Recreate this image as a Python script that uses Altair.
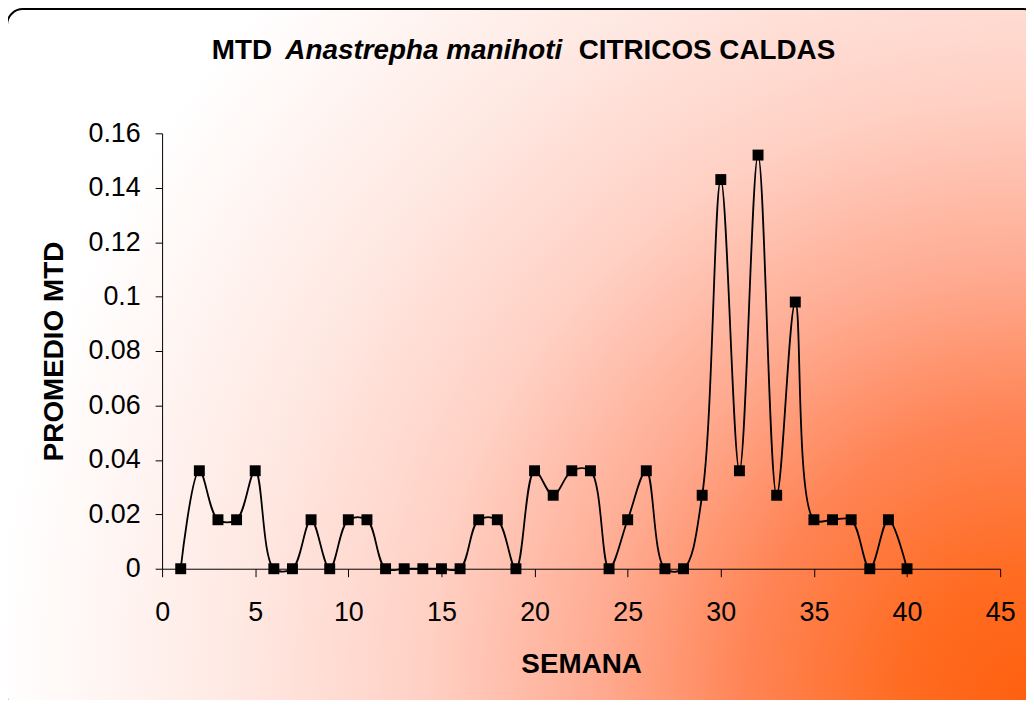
import altair as alt
import pandas as pd

# ---- data ----
semana = list(range(1, 41))
mtd = [0.0, 0.036, 0.018, 0.018, 0.036, 0.0, 0.0, 0.018, 0.0, 0.018,
       0.018, 0.0, 0.0, 0.0, 0.0, 0.0, 0.018, 0.018, 0.0, 0.036,
       0.027, 0.036, 0.036, 0.0, 0.018, 0.036, 0.0, 0.0, 0.027, 0.143,
       0.036, 0.152, 0.027, 0.098, 0.018, 0.018, 0.018, 0.0, 0.018, 0.0]
y_ticks = [0, 0.02, 0.04, 0.06, 0.08, 0.1, 0.12, 0.14, 0.16]
x_ticks = [0, 5, 10, 15, 20, 25, 30, 35, 40, 45]
title_parts = ["MTD", "Anastrepha manihoti", "CITRICOS CALDAS"]
title_styles = ["normal", "italic", "normal"]
x_title = "SEMANA"
y_title = "PROMEDIO MTD"

df = pd.DataFrame({"semana": semana, "mtd": mtd})

W, H = 843, 438
FONT = "Liberation Sans"

# background panel with gradient (radiating from the lower-right corner) and rounded border
bg = alt.Chart(pd.DataFrame({"k": [0]})).mark_rect(
    fill=alt.Gradient(
        gradient="radial", x1=0.985, y1=0.826, r1=0, x2=0.985, y2=0.826, r2=1.0,
        stops=[
            alt.GradientStop(color="#ff6010", offset=0.0),
            alt.GradientStop(color="#ff6c22", offset=0.12),
            alt.GradientStop(color="#ff8455", offset=0.27),
            alt.GradientStop(color="#ffaa90", offset=0.41),
            alt.GradientStop(color="#ffd0c4", offset=0.58),
            alt.GradientStop(color="#ffe8e2", offset=0.76),
            alt.GradientStop(color="#fff8f6", offset=0.92),
            alt.GradientStop(color="#ffffff", offset=1.0),
        ],
    ),
    stroke="black", strokeWidth=2, cornerRadius=16, clip=False,
).encode(
    x=alt.value(-156), x2=alt.value(W + 40),
    y=alt.value(-125), y2=alt.value(H + 145),
)

x_enc = alt.X("semana:Q", scale=alt.Scale(domain=[0, 45], nice=False, zero=False),
              axis=alt.Axis(values=x_ticks, title=x_title, grid=False, zindex=1,
                            tickSize=8, labelPadding=23, titlePadding=25,
                            labelFontSize=27, titleFontSize=28,
                            labelFont=FONT, titleFont=FONT, titleFontWeight="bold",
                            labelColor="black", titleColor="black",
                            domainColor="black", tickColor="black",
                            domainWidth=1, tickWidth=1, labelFlush=False))
y_enc = alt.Y("mtd:Q", scale=alt.Scale(domain=[0, 0.16], nice=False),
              axis=alt.Axis(values=y_ticks, title=y_title, grid=False, format="~g", zindex=1,
                            tickSize=7, labelPadding=15, titlePadding=20,
                            labelFontSize=27, titleFontSize=28,
                            labelFont=FONT, titleFont=FONT, titleFontWeight="bold",
                            labelColor="black", titleColor="black",
                            domainColor="black", tickColor="black",
                            domainWidth=1, tickWidth=1, labelFlush=False))

line = alt.Chart(df).mark_line(
    color="black", strokeWidth=1.8, interpolate="catmull-rom", clip=False
).encode(x=x_enc, y=y_enc)

pts = alt.Chart(df).mark_point(
    shape="square", filled=True, color="black", size=121, opacity=1
).encode(x="semana:Q", y="mtd:Q")

title_x = [50, 124, 419]
title_layers = []
for txt, sty, tx in zip(title_parts, title_styles, title_x):
    t = alt.Chart(pd.DataFrame({"t": [txt]})).mark_text(
        font=FONT, fontSize=28, fontWeight="bold", fontStyle=sty,
        align="left", baseline="alphabetic", color="black",
    ).encode(text="t:N", x=alt.value(tx), y=alt.value(-75))
    title_layers.append(t)

chart = alt.layer(bg, line, pts, *title_layers).properties(
    width=W, height=H,
    padding={"left": 155, "top": 124, "right": 26, "bottom": 130},
    autosize=alt.AutoSizeParams(type="none"),
    background="white",
).configure_view(stroke=None)

chart.save("out.html", embed_options={"renderer": "svg", "actions": False})
